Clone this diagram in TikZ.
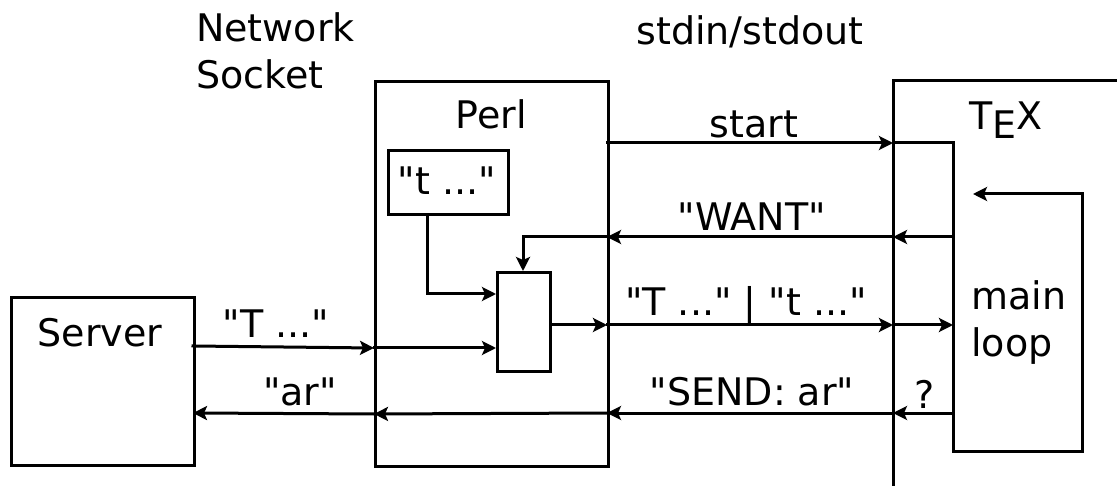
\documentclass[tikz,border=0pt]{standalone}
\usepackage{fontspec}
\setmainfont{DejaVu Sans}
\newfontfamily\dvsans{DejaVu Sans}
\usetikzlibrary{arrows.meta}
\tikzset{
  ln/.style={line width=3pt, line cap=rect, line join=miter},
  ar/.style={ln, -{Stealth[length=14pt,width=14pt,inset=3pt]}},
  txt/.style={anchor=base, inner sep=0pt, font=\dvsans\fontsize{38}{46}\selectfont},
  box/.style={draw, line width=3pt, inner sep=0pt},
}
\begin{document}
\begin{tikzpicture}[x=1pt,y=-1pt]
\useasboundingbox (0,0) rectangle (1117,486);
% boxes
\node[box, minimum width=183pt, minimum height=168pt, anchor=north west] (server) at (10,296) {};
\node[box, minimum width=233pt, minimum height=385pt, anchor=north west] (perl) at (374,80) {};
\node[box, minimum width=120pt, minimum height=64pt, anchor=north west] (tbox) at (387,149) {};
\node[box, minimum width=53pt, minimum height=99pt, anchor=north west] (mux) at (496,271) {};
% TeX boundary
\coordinate (texTop) at (893,81);
\coordinate (texBot) at (893,486);
\coordinate (texRight) at (1117,81);
\draw[ln, line cap=butt] (texBot) -- (texTop) -- (texRight);
% texts
\node[txt, anchor=base west] (net) at (196,42) {Network};
\node[txt, anchor=base west] (sock) at (196,89) {Socket};
\node[txt] (std) at (750,45) {stdin/stdout};
\node[txt] (perllab) at (491,129) {Perl};
\node[txt] (texlab) at (1006,130) {T\kern-0.02em\lower0.22em\hbox{E}\kern-0.01em X};
\node[txt] (tlab) at (447,195) {"t ..."};
\node[txt] (serverlab) at (100,347) {Server};
\node[txt, anchor=base west] (mainlab) at (971,310) {main};
\node[txt, anchor=base west] (looplab) at (971,356) {loop};
\node[txt] (startlab) at (754,138) {start};
\node[txt] (wantlab) at (752,231) {"WANT"};
\node[txt] (tTlab) at (746,316) {"T ..." | "t ..."};
\node[txt] (Tlab) at (276,338) {"T ..."};
\node[txt] (arlab) at (300,406) {"ar"};
\node[txt] (sendlab) at (752,406) {"SEND: ar"};
\node[txt] (qlab) at (925,408) {?};
% coordinates
\coordinate (pS) at (607,143);
\coordinate (tS) at (893,143);
\coordinate (mlTL) at (953,143);
\coordinate (mlBL) at (953,451);
\coordinate (mlBR) at (1082,451);
\coordinate (mlTR) at (1082,194);
\coordinate (mlArr) at (973,194);
\coordinate (mW) at (953,237);
\coordinate (tW) at (893,237);
\coordinate (pW) at (607,237);
\coordinate (cW) at (523,237);
\coordinate (mT) at (953,325);
\coordinate (tT) at (893,325);
\coordinate (pT) at (607,325);
\coordinate (mS) at (953,413);
\coordinate (tSe) at (893,413);
\coordinate (pSe) at (607,413);
\coordinate (plSe) at (374,414);
\coordinate (sSe) at (193,413);
\coordinate (sT) at (193,346);
\coordinate (plT) at (374,348);
\coordinate (tDown) at (427,294);
% start
\draw[ar] (pS) -- (tS);
\draw[ar] (tS) -- (mlTL) -- (mlBL) -- (mlBR) -- (mlTR) -- (mlArr);
% WANT
\draw[ar] (mW) -- (tW);
\draw[ar] (tW) -- (pW);
\draw[ar] (pW) -- (cW) -- (mux.north -| cW);
% T | t
\draw[ar] (mux.east |- pT) -- (pT);
\draw[ar] (pT) -- (tT);
\draw[ar] (tT) -- (mT);
% SEND
\draw[ar] (mS) -- (tSe);
\draw[ar] (tSe) -- (pSe);
\draw[ar] (pSe) -- (plSe);
\draw[ar] (plSe) -- (sSe);
% T from server
\draw[ar] (sT) -- (plT);
\draw[ar] (plT) -- (mux.west |- plT);
% t box
\draw[ar] (tbox.south -| tDown) -- (tDown) -- (mux.west |- tDown);
\end{tikzpicture}
\end{document}
